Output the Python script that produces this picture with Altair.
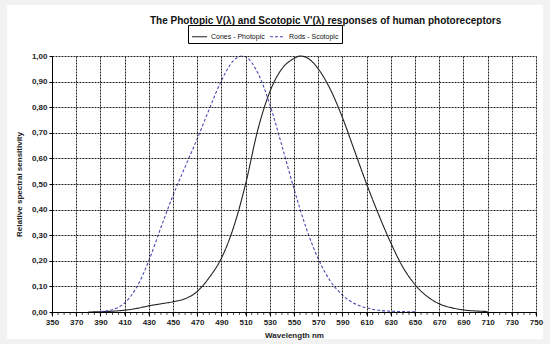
import altair as alt
import pandas as pd

# Wavelengths (nm) and relative sensitivities
photopic_nm = [380, 390, 400, 410, 420, 430, 440, 450, 460, 470, 480, 490, 500, 510, 520,
               530, 540, 550, 555, 560, 570, 580, 590, 600, 610, 620, 630, 640, 650, 660,
               670, 680, 690, 700, 710]
photopic_val = [0.000, 0.001, 0.003, 0.007, 0.014, 0.024, 0.032, 0.040, 0.052, 0.080, 0.135,
                0.210, 0.330, 0.500, 0.710, 0.860, 0.950, 0.990, 1.000, 0.995, 0.950, 0.870,
                0.760, 0.630, 0.500, 0.380, 0.270, 0.175, 0.107, 0.061, 0.032, 0.017, 0.008,
                0.004, 0.002]

scotopic_nm = [390, 400, 410, 420, 430, 440, 450, 460, 470, 480, 490, 500, 507, 510, 520, 530,
               540, 550, 560, 570, 580, 590, 600, 610, 620, 630, 640, 650]
scotopic_val = [0.002, 0.009, 0.035, 0.097, 0.200, 0.330, 0.455, 0.567, 0.676, 0.793, 0.904,
                0.982, 1.000, 0.997, 0.935, 0.811, 0.650, 0.481, 0.329, 0.208, 0.121, 0.066,
                0.033, 0.016, 0.007, 0.003, 0.0015, 0.0007]

series_names = ["Cones - Photopic", "Rods - Scotopic"]
x_ticks = list(range(350, 751, 20))
minor_ticks = list(range(350, 751, 5))

title_text = "The Photopic V(\u03bb) and Scotopic V'(\u03bb) responses of human photoreceptors"
x_title = "Wavelength nm"
y_title = "Relative spectral sensitivity"

FONT = "Liberation Sans"
W, H = 484, 256
TOP = 56

df = pd.concat([
    pd.DataFrame({"nm": photopic_nm, "val": photopic_val, "series": series_names[0]}),
    pd.DataFrame({"nm": scotopic_nm, "val": scotopic_val, "series": series_names[1]}),
])
ticks_df = pd.DataFrame({"nm": minor_ticks})
title_df = pd.DataFrame({"t": [title_text]})

xscale = alt.Scale(domain=[350, 750], nice=False, zero=False)
yscale = alt.Scale(domain=[0, 1], nice=False)

x_axis = alt.Axis(values=x_ticks, title=x_title, grid=True, gridDash=[2, 1],
                  gridColor="#222", gridOpacity=1, gridWidth=1, zindex=1,
                  domainColor="#000", tickColor="#000", tickSize=4,
                  labelOverlap=False,
                  labelFont=FONT, labelFontSize=8, labelFontWeight="bold",
                  labelColor="#222", labelPadding=2, labelFlush=False,
                  titleFont=FONT, titleFontSize=8, titleFontWeight="bold",
                  titleColor="#222", titlePadding=5)

panel = alt.Chart(pd.DataFrame({"a": [0]})).mark_rect(color="white").encode(
    x=alt.value(-45), x2=alt.value(W + 7), y=alt.value(5 - TOP), y2=alt.value(H + 27)
)

title_mark = alt.Chart(title_df).mark_text(
    font=FONT, fontSize=10, fontWeight="bold", color="#111", align="left", baseline="middle"
).encode(x=alt.value(98), y=alt.value(21 - TOP), text="t:N")

lines = alt.Chart(df).mark_line(strokeWidth=1.1, interpolate="monotone").encode(
    x=alt.X("nm:Q", scale=xscale, axis=x_axis),
    y=alt.Y("val:Q", scale=yscale,
            axis=alt.Axis(values=[i / 10 for i in range(11)], title=y_title, grid=True,
                          gridDash=[2, 1], gridColor="#222", gridOpacity=1, gridWidth=1,
                          zindex=1, labelOverlap=False,
                          domainColor="#000", tickColor="#000", tickSize=3,
                          labelExpr="replace(format(datum.value, '.2f'), '.', ',')",
                          labelFont=FONT, labelFontSize=8, labelFontWeight="bold",
                          labelColor="#222", labelPadding=2,
                          titleFont=FONT, titleFontSize=8, titleFontWeight="bold",
                          titleColor="#222", titlePadding=8)),
    color=alt.Color("series:N",
                    scale=alt.Scale(domain=series_names, range=["#222222", "#4a4ab4"]),
                    legend=alt.Legend(title=None, orient="none", direction="horizontal",
                                      legendX=136, legendY=25 - TOP, strokeColor="#000",
                                      fillColor="white", padding=3, symbolType="stroke",
                                      symbolSize=225, symbolStrokeWidth=1.1,
                                      labelFont=FONT, labelFontSize=7, labelColor="#111",
                                      columnPadding=2, symbolOffset=0, labelOffset=3)),
    strokeDash=alt.StrokeDash("series:N",
                              scale=alt.Scale(domain=series_names, range=[[1, 0], [3, 2]]),
                              legend=None),
)

minor = alt.Chart(ticks_df).mark_tick(color="#000", thickness=1, size=3).encode(
    x=alt.X("nm:Q", scale=xscale, axis=x_axis), y=alt.value(H + 1.5)
)

chart = alt.layer(panel, title_mark, lines, minor).properties(
    width=W, height=H,
    padding={"left": 52, "top": TOP, "right": 14, "bottom": 344 - TOP - H},
    autosize=alt.AutoSizeParams(type="none"),
    background="#f2f2f2",
).configure_view(stroke="#888", strokeWidth=1, fill="white")

chart.save("out.html", embed_options={"renderer": "svg", "actions": False})
